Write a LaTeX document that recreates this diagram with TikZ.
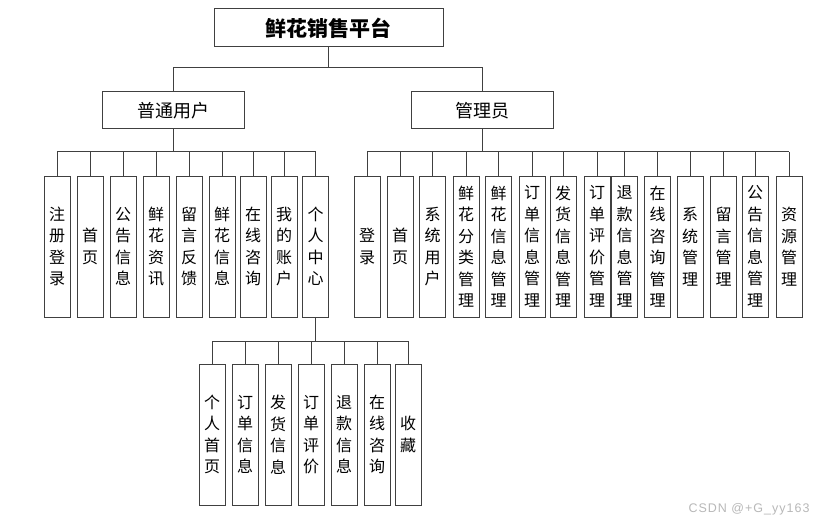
\documentclass[tikz,border=0pt]{standalone}
\usepackage{fontspec}
\setmainfont{Liberation Sans}
\newfontfamily\cjk{Noto Sans CJK SC}
\newfontfamily\wmfont{Liberation Sans}[LetterSpace=8]
\begin{document}
\begin{tikzpicture}[x=1pt,y=-1pt,
  box/.style={draw=black!75, line width=1pt, inner sep=0pt, anchor=center, fill=white},
  hbox/.style={box, minimum width=142pt, minimum height=37pt, font=\cjk\fontsize{18}{18}\selectfont},
  vbox/.style={box, minimum width=26pt, minimum height=141pt, align=center, font=\cjk\fontsize{16}{21.5}\selectfont},
  wire/.style={draw=black!75, line width=1pt}
]
\useasboundingbox (0,0) rectangle (822,524);
\fill[white] (0,0) rectangle (822,524);

% levels
\coordinate (tbus) at (0,68);
\coordinate (lbus) at (0,152);
\coordinate (sbus) at (0,341);

% top
\node[box, minimum width=229pt, minimum height=38pt, font=\cjk\bfseries\fontsize{21}{21}\selectfont] (title) at (328.5,28) {鲜花销售平台};
\node[hbox] (pu) at (173.5,110.5) {普通用户};
\node[hbox] (mg) at (482,110.5) {管理员};

% user children
\node[vbox] (u1) at (57,246.5) {注\\册\\登\\录};
\node[vbox] (u2) at (90,246.5) {首\\页};
\node[vbox] (u3) at (123,246.5) {公\\告\\信\\息};
\node[vbox] (u4) at (156,246.5) {鲜\\花\\资\\讯};
\node[vbox] (u5) at (189,246.5) {留\\言\\反\\馈};
\node[vbox] (u6) at (222,246.5) {鲜\\花\\信\\息};
\node[vbox] (u7) at (253,246.5) {在\\线\\咨\\询};
\node[vbox] (u8) at (284,246.5) {我\\的\\账\\户};
\node[vbox] (u9) at (315.5,246.5) {个\\人\\中\\心};

% admin children
\node[vbox] (a1) at (367,246.5) {登\\录};
\node[vbox] (a2) at (400,246.5) {首\\页};
\node[vbox] (a3) at (432.5,246.5) {系\\统\\用\\户};
\node[vbox] (a4) at (466,246.5) {鲜\\花\\分\\类\\管\\理};
\node[vbox] (a5) at (498.5,246.5) {鲜\\花\\信\\息\\管\\理};
\node[vbox] (a6) at (532,246.5) {订\\单\\信\\息\\管\\理};
\node[vbox] (a7) at (563,246.5) {发\\货\\信\\息\\管\\理};
\node[vbox] (a8) at (597,246.5) {订\\单\\评\\价\\管\\理};
\node[vbox] (a9) at (624.5,246.5) {退\\款\\信\\息\\管\\理};
\node[vbox] (a10) at (657.5,246.5) {在\\线\\咨\\询\\管\\理};
\node[vbox] (a11) at (690,246.5) {系\\统\\管\\理};
\node[vbox] (a12) at (723.5,246.5) {留\\言\\管\\理};
\node[vbox] (a13) at (755,246.5) {公\\告\\信\\息\\管\\理};
\node[vbox] (a14) at (789,246.5) {资\\源\\管\\理};

% personal centre children
\node[vbox] (s1) at (212,434.5) {个\\人\\首\\页};
\node[vbox] (s2) at (245,434.5) {订\\单\\信\\息};
\node[vbox] (s3) at (278,434.5) {发\\货\\信\\息};
\node[vbox] (s4) at (311,434.5) {订\\单\\评\\价};
\node[vbox] (s5) at (344,434.5) {退\\款\\信\\息};
\node[vbox] (s6) at (377,434.5) {在\\线\\咨\\询};
\node[vbox] (s7) at (408,434.5) {收\\藏};

% connectors
\draw[wire] (title.south) -- (title.south |- tbus);
\draw[wire] (pu.north) -- (pu.north |- tbus) -- (mg.north |- tbus) -- (mg.north);

\draw[wire] (pu.south) -- (pu.south |- lbus);
\draw[wire] (u1.north |- lbus) -- (u9.north |- lbus);
\foreach \n in {u1,u2,u3,u4,u5,u6,u7,u8,u9}
  \draw[wire] (\n.north) -- (\n.north |- lbus);

\draw[wire] (mg.south) -- (mg.south |- lbus);
\draw[wire] (a1.north |- lbus) -- (a14.north |- lbus);
\foreach \n in {a1,a2,a3,a4,a5,a6,a7,a8,a9,a10,a11,a12,a13,a14}
  \draw[wire] (\n.north) -- (\n.north |- lbus);

\draw[wire] (u9.south) -- (u9.south |- sbus);
\draw[wire] (s1.north |- sbus) -- (s7.north |- sbus);
\foreach \n in {s1,s2,s3,s4,s5,s6,s7}
  \draw[wire] (\n.north) -- (\n.north |- sbus);

% watermark
\node[text=black!28, font=\wmfont\fontsize{12.5}{12.5}\selectfont, anchor=east] (wm) at (813,509) {CSDN @+G\_yy163};
\end{tikzpicture}
\end{document}
